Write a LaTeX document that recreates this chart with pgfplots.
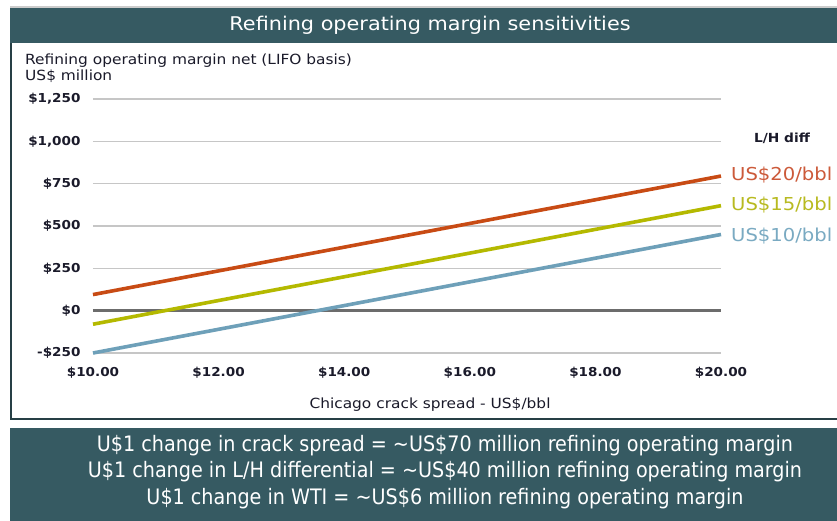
\documentclass[border=0pt]{standalone}
\usepackage{pgfplots}
\pgfplotsset{compat=1.18}
\usepackage{fontspec}
\setmainfont{DejaVu Sans}[FakeStretch=1.1]
\newfontfamily\condfont{DejaVu Sans Condensed}
\definecolor{teal}{HTML}{365A62}
\definecolor{cred}{HTML}{C84B14}
\definecolor{cyel}{HTML}{B4B900}
\definecolor{cblu}{HTML}{6EA0B9}
\definecolor{lred}{HTML}{CC5A3A}
\definecolor{lyel}{HTML}{B8BA20}
\definecolor{lblu}{HTML}{7AAAC2}
\definecolor{txt}{HTML}{1A1A2A}
\begin{document}
\begin{tikzpicture}[x=1pt,y=1pt]
\useasboundingbox (0,0) rectangle (837,-521);
\fill[white] (0,0) rectangle (837,-521);
% title bar
\draw[gray!40, line width=1.5] (10,-7) -- (837,-7);
\fill[teal] (10,-8) rectangle (837,-43);
\node[white, font=\fontsize{18.9}{21}\selectfont] at (430,-25.5) {Refining operating margin sensitivities};
% panel
\draw[teal!70!black, line width=2.2] (11,-43) -- (11,-419) -- (837,-419);
% bottom box
\fill[teal] (10,-428) rectangle (837,-521);
\node[white, font=\condfont\fontsize{21.3}{23}\selectfont] at (445,-446) {U\$1 change in crack spread = \textasciitilde US\$70 million refining operating margin};
\node[white, font=\condfont\fontsize{21.3}{23}\selectfont] at (445,-472) {U\$1 change in L/H differential = \textasciitilde US\$40 million refining operating margin};
\node[white, font=\condfont\fontsize{21.3}{23}\selectfont] at (445,-499) {U\$1 change in WTI = \textasciitilde US\$6 million refining operating margin};
% y label
\node[anchor=base west, inner sep=0, txt, font=\fontsize{14}{16}\selectfont] at (25,-65) {Refining operating margin net (LIFO basis)};
\node[anchor=base west, inner sep=0, txt, font=\fontsize{14}{16}\selectfont] at (25,-81) {US\$ million};
% x label
\node[txt, font=\fontsize{14}{16}\selectfont] at (430,-405) {Chicago crack spread - US\$/bbl};
% legend
\node[txt, font=\bfseries\fontsize{12.5}{14}\selectfont] at (782,-138) {L/H diff};
\node[anchor=west, inner sep=0, lred, font=\fontsize{17.8}{19}\selectfont] at (731,-175) {US\$20/bbl};
\node[anchor=west, inner sep=0, lyel, font=\fontsize{17.8}{19}\selectfont] at (731,-205) {US\$15/bbl};
\node[anchor=west, inner sep=0, lblu, font=\fontsize{17.8}{19}\selectfont] at (731,-236) {US\$10/bbl};
\begin{axis}[
  at={(93pt,-353pt)}, anchor=south west,
  scale only axis, width=628pt, height=254pt,
  xmin=10, xmax=20, ymin=-250, ymax=1250,
  axis line style={draw=none},
  tick style={draw=none},
  xtick={10,12,14,16,18,20},
  xticklabels={\$10.00,\$12.00,\$14.00,\$16.00,\$18.00,\$20.00},
  ytick={-250,0,250,500,750,1000,1250},
  yticklabels={-\$250,\$0,\$250,\$500,\$750,{\$1,000},{\$1,250}},
  ymajorgrids, grid style={gray!45, line width=1.5},
  /pgf/number format/assume math mode=true,
  ticklabel style={font=\bfseries\fontsize{12.3}{14}\selectfont, text=txt},
  xticklabel style={yshift=-11pt},
  yticklabel style={xshift=-9pt},
  clip=false,
]
\draw[gray!85!black, line width=2.4] (axis cs:10,0) -- (axis cs:20,0);
\addplot[cred, line width=3.6] coordinates {(10,95) (20,795)};
\addplot[cyel, line width=3.6] coordinates {(10,-80) (20,620)};
\addplot[cblu, line width=3.6] coordinates {(10,-250) (20,450)};
\end{axis}
\end{tikzpicture}
\end{document}
